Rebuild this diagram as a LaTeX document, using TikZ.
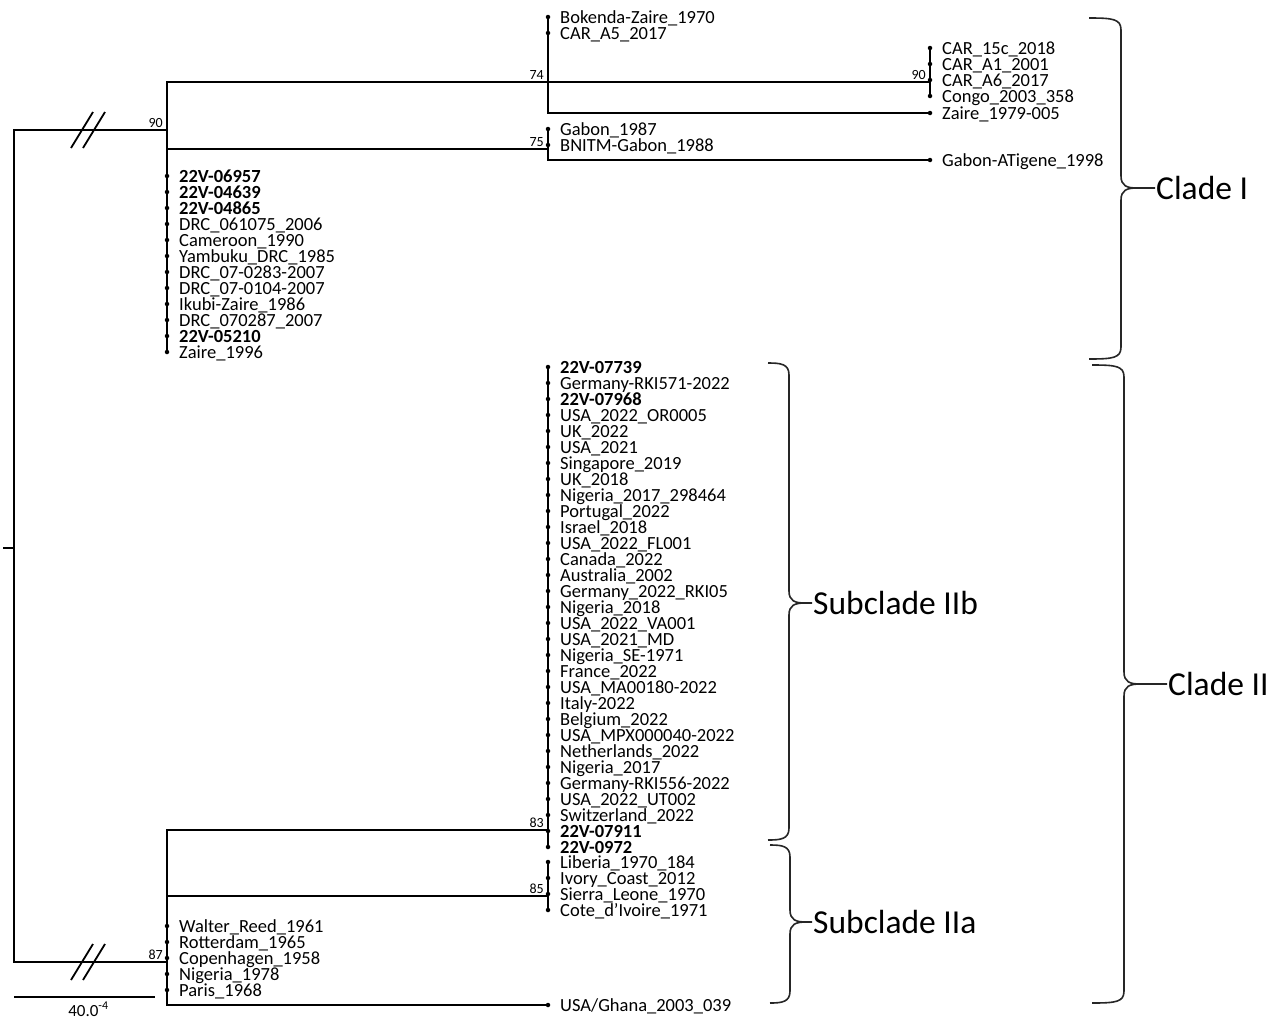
\documentclass[tikz,border=0pt]{standalone}
\usepackage{fontspec}
\setmainfont{Carlito}
\usetikzlibrary{positioning,calc}

\tikzset{
  branch/.style={line width=2.5pt},
  stem/.style={line width=1.8pt},
  leaf/.style={circle, fill, inner sep=0pt, minimum size=4.5pt},
  taxon/.style={anchor=base west, inner sep=0pt, xshift=12pt, yshift=-6pt,
    font=\fontsize{18.5}{18.5}\selectfont},
  boot/.style={anchor=south east, inner sep=1pt, xshift=-3pt, yshift=1pt,
    font=\fontsize{14}{14}\selectfont},
  bracket/.style={line width=1.6pt, black!85},
  cladelab/.style={anchor=west, inner sep=1pt, font=\fontsize{33.5}{33.5}\selectfont},
}

% x, top, mid, bottom, hook, label x, name, text
\newcommand{\cladebrace}[8]{%
  \node[cladelab] (#7) at (#6,#3) {#8};
  \draw[bracket] (#1-#5,#2) .. controls (#1-8,#2) and (#1,#2+1) .. (#1,#2+12)
    -- (#1,#3-12) .. controls (#1,#3-2) and (#1+6,#3) .. (#1+16,#3) -- (#7.west);
  \draw[bracket] (#1+16,#3) .. controls (#1+6,#3) and (#1,#3+2) .. (#1,#3+12)
    -- (#1,#4-12) .. controls (#1,#4-1) and (#1-8,#4) .. (#1-#5,#4);
}

\begin{document}
\begin{tikzpicture}[x=1pt,y=-1pt]
    \useasboundingbox (0,0) rectangle (1280,1020);

    % --- internal nodes ---
    \coordinate (root) at (14,548);
    \coordinate (rootstub) at (3,548);
    \coordinate (nI) at (167,130);
    \coordinate (n74) at (548,82);
    \coordinate (nCAR) at (930,82);
    \coordinate (n75) at (548,149);
    \coordinate (nII) at (167,962);
    \coordinate (n83) at (548,830);
    \coordinate (n85) at (548,896);

    % --- root and broken stems ---
    \draw[stem] (rootstub) -- (root);
    \draw[stem] (root) |- (nI);
    \draw[stem] (root) |- (nII);
    \coordinate (brkI) at (88,130);
    \coordinate (brkII) at (88,962);
    \foreach \brk in {brkI,brkII} {
        \foreach \dx in {-6,6} {
            \draw[stem] ($(\brk)+(\dx-11,18)$) -- ($(\brk)+(\dx+11,-18)$);
        }
    }

    % --- Clade I ---
    \draw[branch] (nI) |- (n74);
    \draw[branch] (nI) |- (n75);
    \draw[branch] (n74) |- (nCAR);
    \foreach \name [count=\i from 0] in {Bokenda-Zaire\_1970, CAR\_A5\_2017} {
        \node[leaf] (ca\i) at (548,{17+16*\i}) {};
        \node[taxon] (tca\i) at (ca\i) {\name};
        \draw[branch] (n74) |- (ca\i.center);
    }
    \node[leaf] (z79) at (930,113) {};
    \node[taxon] (tz79) at (z79) {Zaire\_1979-005};
    \draw[branch] (n74) |- (z79.center);
    \foreach \name [count=\i from 0] in {CAR\_15c\_2018, CAR\_A1\_2001, CAR\_A6\_2017, Congo\_2003\_358} {
        \node[leaf] (cr\i) at (930,{48+16*\i}) {};
        \node[taxon] (tcr\i) at (cr\i) {\name};
        \draw[branch] (nCAR) |- (cr\i.center);
    }
    \foreach \name [count=\i from 0] in {Gabon\_1987, BNITM-Gabon\_1988} {
        \node[leaf] (gb\i) at (548,{129+16*\i}) {};
        \node[taxon] (tgb\i) at (gb\i) {\name};
        \draw[branch] (n75) |- (gb\i.center);
    }
    \node[leaf] (gat) at (930,160) {};
    \node[taxon] (tgat) at (gat) {Gabon-ATigene\_1998};
    \draw[branch] (n75) |- (gat.center);
    \foreach \name [count=\i from 0] in {\textbf{22V-06957}, \textbf{22V-04639}, \textbf{22V-04865},
        DRC\_061075\_2006, Cameroon\_1990, Yambuku\_DRC\_1985, DRC\_07-0283-2007,
        DRC\_07-0104-2007, Ikubi-Zaire\_1986, DRC\_070287\_2007, \textbf{22V-05210}, Zaire\_1996} {
        \node[leaf] (cb\i) at (167,{176+16*\i}) {};
        \node[taxon] (tcb\i) at (cb\i) {\name};
        \draw[branch] (nI) |- (cb\i.center);
    }

    % --- Clade II ---
    \draw[branch] (nII) |- (n83);
    \draw[branch] (nII) |- (n85);
    \foreach \name [count=\i from 0] in {\textbf{22V-07739}, Germany-RKI571-2022, \textbf{22V-07968},
        USA\_2022\_OR0005, UK\_2022, USA\_2021, Singapore\_2019, UK\_2018, Nigeria\_2017\_298464,
        Portugal\_2022, Israel\_2018, USA\_2022\_FL001, Canada\_2022, Australia\_2002,
        Germany\_2022\_RKI05, Nigeria\_2018, USA\_2022\_VA001, USA\_2021\_MD, Nigeria\_SE-1971,
        France\_2022, USA\_MA00180-2022, Italy-2022, Belgium\_2022, USA\_MPX000040-2022,
        Netherlands\_2022, Nigeria\_2017, Germany-RKI556-2022, USA\_2022\_UT002,
        Switzerland\_2022, \textbf{22V-07911}, \textbf{22V-0972}} {
        \node[leaf] (sb\i) at (548,{367+16*\i}) {};
        \node[taxon] (tsb\i) at (sb\i) {\name};
        \draw[branch] (n83) |- (sb\i.center);
    }
    \foreach \name [count=\i from 0] in {Liberia\_1970\_184, Ivory\_Coast\_2012, Sierra\_Leone\_1970,
        Cote\_d'Ivoire\_1971} {
        \node[leaf] (sa\i) at (548,{862+16*\i}) {};
        \node[taxon] (tsa\i) at (sa\i) {\name};
        \draw[branch] (n85) |- (sa\i.center);
    }
    \foreach \name [count=\i from 0] in {Walter\_Reed\_1961, Rotterdam\_1965, Copenhagen\_1958,
        Nigeria\_1978, Paris\_1968} {
        \node[leaf] (wa\i) at (167,{926+16*\i}) {};
        \node[taxon] (twa\i) at (wa\i) {\name};
        \draw[branch] (nII) |- (wa\i.center);
    }
    \node[leaf] (gha) at (548,1005) {};
    \node[taxon] (tgha) at (gha) {USA/Ghana\_2003\_039};
    \draw[branch] (nII) |- (gha.center);

    % --- bootstrap values ---
    \node[boot] (bI) at (nI) {90};
    \node[boot] (b74) at (n74) {74};
    \node[boot] (bCAR) at (nCAR) {90};
    \node[boot] (b75) at (n75) {75};
    \node[boot] (bII) at (nII) {87};
    \node[boot] (b83) at (n83) {83};
    \node[boot] (b85) at (n85) {85};

    % --- scale bar ---
    \coordinate (sbL) at (14,997);
    \coordinate (sbR) at (155,997);
    \draw[stem] (sbL) -- (sbR);
    \node[anchor=north, inner sep=0pt, font=\fontsize{17}{17}\selectfont] (sbtext)
        at ($(sbL)!0.5!(sbR)+(4,5)$) {40.0\textsuperscript{-4}};

    % --- clade brackets ---
    \cladebrace{1121}{18}{188}{359}{32}{1155}{cI}{Clade I}
    \cladebrace{1124}{365}{684}{1003}{32}{1167}{cII}{Clade II}
    \cladebrace{789}{363}{603}{840}{21}{812}{cIIb}{Subclade IIb}
    \cladebrace{790}{845}{922}{1003}{20}{812}{cIIa}{Subclade IIa}
\end{tikzpicture}
\end{document}
